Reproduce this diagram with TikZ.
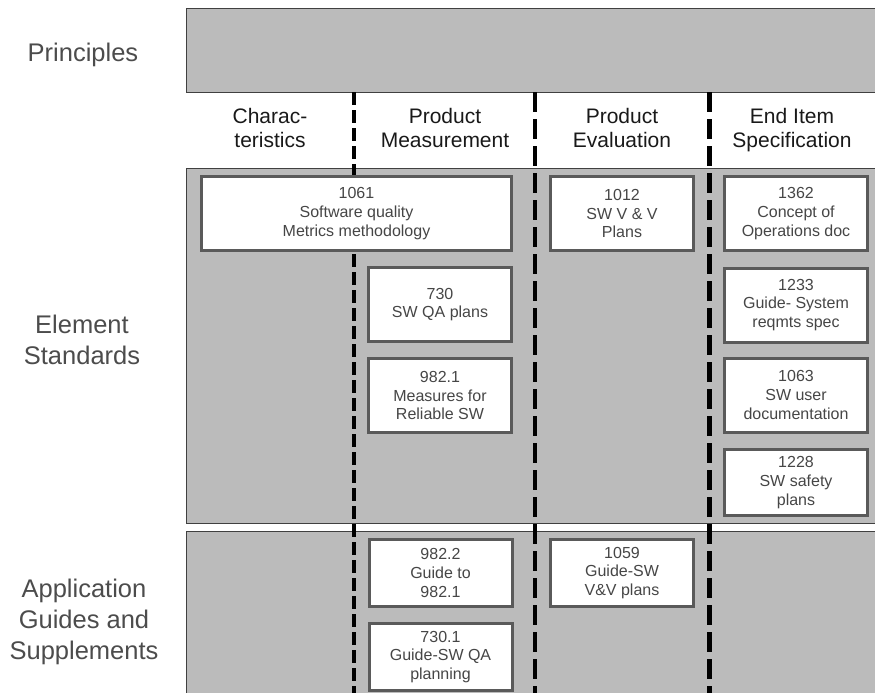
\documentclass[tikz,border=0pt]{standalone}
\usepackage{fontspec}
\setmainfont{Liberation Sans}
\usepackage{tikz}
\definecolor{bandgray}{RGB}{187,187,187}
\definecolor{boxedge}{RGB}{90,90,90}
\definecolor{boxtext}{RGB}{70,70,70}
\newcommand{\defaultboxwidth}{143pt}
\newcommand{\boxheight}{74pt}
\tikzstyle{band}=[draw=black!75, line width=0.8pt, fill=bandgray]
\tikzstyle{stdbox}=[draw=boxedge, fill=white, line width=3pt, inner sep=0,
                    minimum width=\defaultboxwidth, minimum height=\boxheight,
                    align=center, text=boxtext, font=\fontsize{16}{18.7}\selectfont]
\tikzstyle{shortbox}=[stdbox, minimum height=67pt]
\tikzstyle{colhead}=[align=center, text=black!90, font=\fontsize{21}{24.5}\selectfont]
\tikzstyle{rowhead}=[align=center, text=black!70, font=\fontsize{25.5}{31}\selectfont]
\tikzstyle{divider}=[line width=4.5pt, dash pattern=on 20pt off 7pt]
\tikzstyle{standardsgrid}=[x=1pt, y=-1pt,
                           % Pixel-like units, y grows downwards.
                           every node/.style={inner sep=0, outer sep=0}]

\begin{document}
\begin{tikzpicture}[standardsgrid]
    \useasboundingbox (0,0) rectangle (875,693);
    \path[band] (186,8) rectangle (880,92);
    \path[band] (186,168) rectangle (880,523);
    \path[band] (186,531) rectangle (880,700);

    \node[rowhead] (principles) at (83,55) {Principles};
    \node[rowhead] (element) at (82,340) {Element\\Standards};
    \node[rowhead] (application) at (84,622) {Application\\Guides and\\Supplements};

    \node[colhead] (charac) at (270,128) {Charac-\\teristics};
    \node[colhead] (measure) at (445,128) {Product\\Measurement};
    \node[colhead] (evaluate) at (622,128) {Product\\Evaluation};
    \node[colhead] (enditem) at (792,130) {End Item\\Specification};

    \coordinate (div1top) at (354,92);
    \coordinate (div1bot) at (354,693);
    \coordinate (div2top) at (535,92);
    \coordinate (div2bot) at (535,693);
    \coordinate (div3top) at (709.5,92);
    \coordinate (div3bot) at (709.5,693);
    \draw[divider, line width=3.5pt, dash pattern=on 12.5pt off 5.5pt] (div1top) -- (div1bot);
    \draw[divider] (div2top) -- (div2bot);
    \draw[divider] (div3top) -- (div3bot);

    \node[stdbox, minimum width=310pt] (m1061) at (356.5,213.5) {1061\\Software quality\\Metrics methodology};
    \node[stdbox] (m730) at (440,304.5) {730\\SW QA plans};
    \node[stdbox] (m9821) at (440,395.5) {982.1\\Measures for\\Reliable SW};
    \node[stdbox] (m1012) at (622,213.5) {1012\\SW V \& V\\Plans};
    \node[stdbox] (m1362) at (796,213.5) {1362\\Concept of\\Operations doc};
    \node[stdbox] (m1233) at (796,305) {1233\\Guide- System\\reqmts spec};
    \node[stdbox] (m1063) at (796,395) {1063\\SW user\\documentation};
    \node[shortbox, minimum height=66pt] (m1228) at (796,482.5) {1228\\SW safety\\plans};
    \node[shortbox] (m9822) at (440.5,573) {982.2\\Guide to\\982.1};
    \node[shortbox] (m7301) at (440.5,657) {730.1\\Guide-SW QA\\planning};
    \node[shortbox] (m1059) at (622,573) {1059\\Guide-SW\\V\&V plans};
\end{tikzpicture}
\end{document}
